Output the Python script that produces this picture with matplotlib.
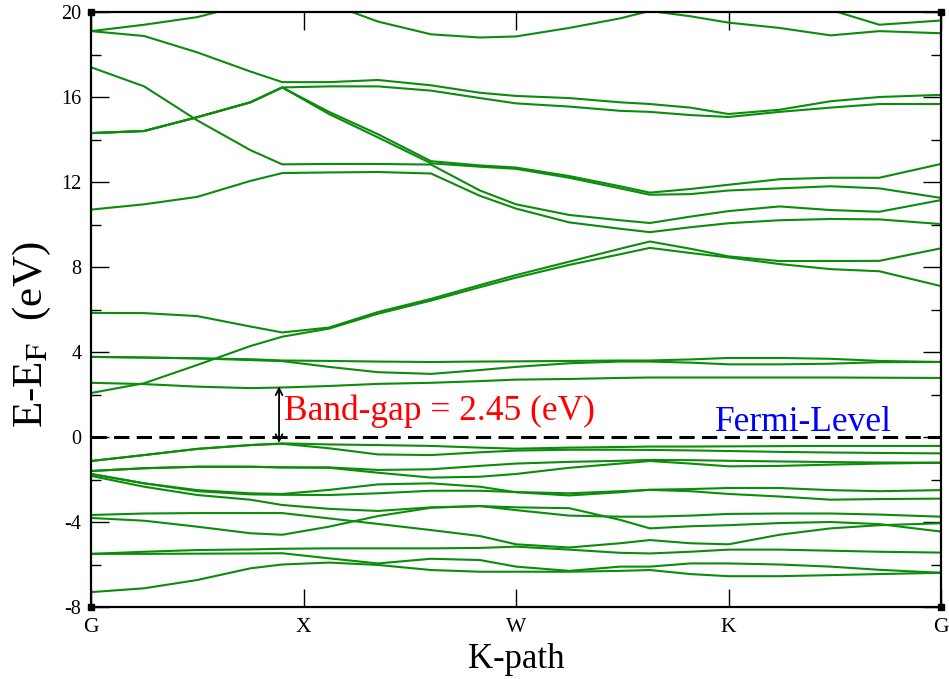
import matplotlib
matplotlib.use("Agg")
import matplotlib.pyplot as plt

# k-path sample positions (G=0, X=1, W=2, K=3, G=4)
kpath = [0, 0.25, 0.5, 0.75, 0.9, 1.12, 1.35, 1.6, 1.83, 2.0, 2.25, 2.49, 2.63, 2.82, 3.0, 3.24, 3.48, 3.71, 4.0]
kticks = [0, 1, 2, 3, 4]
klabels = ["G", "X", "W", "K", "G"]

# conduction bands (eV)
cb_t = [19.1, 19.4, 19.76, 20.4, 20.8, 20.4, 19.55, 18.95, 18.8, 18.85, 19.25, 19.7, 20.05, 19.8, 19.5, 19.25, 18.9, 19.1, 19.0]
cb_u = [20.6, 20.6, 20.6, 20.6, 20.6, 20.6, 20.6, 20.6, 20.6, 20.6, 20.6, 20.6, 20.6, 20.6, 20.6, 20.6, 20.1, 19.4, 19.6]
cb_v = [19.1, 18.87, 18.1, 17.2, 16.7, 16.7, 16.8, 16.55, 16.2, 16.05, 15.95, 15.75, 15.67, 15.5, 15.2, 15.4, 15.8, 16.0, 16.1]
cb_w = [14.3, 14.4, 15.05, 15.75, 16.45, 16.5, 16.5, 16.3, 15.95, 15.7, 15.55, 15.35, 15.3, 15.15, 15.06, 15.3, 15.5, 15.67, 15.67]
cb_p = [14.3, 14.4, 15.05, 15.75, 16.45, 15.3, 14.25, 12.98, 12.78, 12.68, 12.28, 11.8, 11.5, 11.67, 11.87, 12.13, 12.2, 12.2, 12.85]
cb_q = [14.3, 14.4, 15.05, 15.75, 16.45, 15.2, 14.1, 12.88, 12.72, 12.62, 12.2, 11.7, 11.4, 11.43, 11.6, 11.7, 11.8, 11.7, 11.25]
cb_s = [17.4, 16.5, 14.9, 13.5, 12.83, 12.85, 12.85, 12.82, 11.6, 10.95, 10.45, 10.2, 10.07, 10.37, 10.63, 10.85, 10.68, 10.6, 11.15]
cb_r = [10.7, 10.95, 11.3, 12.05, 12.42, 12.45, 12.47, 12.4, 11.35, 10.75, 10.1, 9.8, 9.64, 9.87, 10.06, 10.2, 10.26, 10.24, 10.02]
cb_5 = [5.84, 5.83, 5.69, 5.2, 4.92, 5.15, 5.88, 6.5, 7.15, 7.62, 8.25, 8.86, 9.2, 8.86, 8.5, 8.28, 8.28, 8.29, 8.88]
cb_1 = [2.07, 2.53, 3.39, 4.28, 4.72, 5.1, 5.8, 6.42, 7.05, 7.5, 8.1, 8.6, 8.9, 8.66, 8.45, 8.14, 7.9, 7.8, 7.1]
cb_3 = [3.77, 3.74, 3.7, 3.66, 3.6, 3.58, 3.55, 3.53, 3.55, 3.56, 3.58, 3.6, 3.6, 3.65, 3.72, 3.72, 3.68, 3.58, 3.53]
cb_4 = [3.77, 3.74, 3.7, 3.62, 3.57, 3.3, 3.05, 2.97, 3.15, 3.3, 3.47, 3.55, 3.55, 3.5, 3.42, 3.42, 3.45, 3.52, 3.53]
cb_2 = [2.55, 2.49, 2.37, 2.3, 2.33, 2.4, 2.5, 2.55, 2.63, 2.7, 2.73, 2.78, 2.8, 2.8, 2.8, 2.8, 2.8, 2.79, 2.78]

# valence bands (eV)
vb_1 = [-1.13, -0.85, -0.56, -0.38, -0.3, -0.35, -0.38, -0.42, -0.5, -0.55, -0.5, -0.47, -0.45, -0.45, -0.44, -0.43, -0.42, -0.42, -0.42]
vb_2 = [-1.13, -0.85, -0.56, -0.38, -0.32, -0.53, -0.82, -0.85, -0.72, -0.64, -0.6, -0.6, -0.61, -0.63, -0.66, -0.7, -0.73, -0.75, -0.77]
vb_3 = [-1.6, -1.47, -1.4, -1.4, -1.43, -1.43, -1.55, -1.52, -1.36, -1.25, -1.17, -1.12, -1.08, -1.09, -1.12, -1.15, -1.18, -1.2, -1.21]
vb_4 = [-1.6, -1.47, -1.4, -1.4, -1.43, -1.45, -1.68, -1.91, -1.87, -1.74, -1.45, -1.25, -1.13, -1.25, -1.38, -1.36, -1.3, -1.25, -1.21]
vb_5 = [-1.74, -2.18, -2.5, -2.65, -2.68, -2.49, -2.23, -2.18, -2.34, -2.6, -2.75, -2.6, -2.48, -2.45, -2.4, -2.4, -2.5, -2.55, -2.5]
vb_6 = [-1.74, -2.18, -2.55, -2.7, -2.72, -2.73, -2.65, -2.53, -2.53, -2.59, -2.65, -2.55, -2.49, -2.55, -2.68, -2.8, -2.95, -2.92, -2.9]
vb_7 = [-1.83, -2.34, -2.73, -2.95, -3.2, -3.38, -3.48, -3.31, -3.25, -3.44, -3.7, -3.75, -3.75, -3.7, -3.62, -3.6, -3.6, -3.65, -3.75]
vb_8 = [-3.81, -3.94, -4.22, -4.53, -4.6, -4.22, -3.72, -3.33, -3.25, -3.31, -3.35, -3.9, -4.3, -4.2, -4.15, -4.05, -4.0, -4.1, -4.45]
vb_9 = [-3.67, -3.6, -3.58, -3.58, -3.58, -3.83, -4.09, -4.38, -4.66, -5.05, -5.2, -5.0, -4.85, -5.0, -5.05, -4.6, -4.3, -4.15, -4.06]
vb_10 = [-5.5, -5.4, -5.32, -5.29, -5.26, -5.24, -5.24, -5.24, -5.22, -5.16, -5.3, -5.45, -5.48, -5.4, -5.3, -5.3, -5.35, -5.4, -5.44]
vb_11 = [-5.5, -5.5, -5.49, -5.48, -5.47, -5.71, -5.95, -5.73, -5.79, -6.1, -6.3, -6.1, -6.1, -5.95, -5.95, -6.0, -6.1, -6.25, -6.39]
vb_12 = [-7.3, -7.12, -6.73, -6.18, -6.0, -5.91, -6.02, -6.26, -6.34, -6.34, -6.34, -6.3, -6.26, -6.45, -6.55, -6.55, -6.5, -6.45, -6.39]

bands = [cb_t, cb_u, cb_v, cb_w, cb_p, cb_q, cb_s, cb_r, cb_5, cb_1, cb_3, cb_4, cb_2,
         vb_1, vb_2, vb_3, vb_4, vb_5, vb_6, vb_7, vb_8, vb_9, vb_10, vb_11, vb_12]

k_gap = 0.885
vbm = -0.28
cbm = 2.38

plt.rcParams["font.family"] = ["Liberation Serif", "DejaVu Serif"]
plt.rcParams["mathtext.fontset"] = "stix"
plt.rcParams["axes.unicode_minus"] = False

fig = plt.figure(figsize=(9.49, 6.79), dpi=100)
ax = fig.add_axes([91 / 949, 1 - 607 / 679, 850 / 949, 595 / 679])

for b in bands:
    ax.plot(kpath, b, color="#0b8c0b", lw=1.5, solid_joinstyle="round")

ax.axhline(0, color="k", lw=2.2, ls=(0, (5.0, 2.4)))
ax.annotate("", xy=(k_gap, cbm), xytext=(k_gap, vbm),
            arrowprops=dict(arrowstyle="<->", color="k", lw=1.3, mutation_scale=12, shrinkA=0, shrinkB=0))
ax.text(0.91, 1.2, "Band-gap = 2.45 (eV)", color="red", fontsize=25.5, va="center", ha="left")
ax.text(2.935, 0.7, "Fermi-Level", color="blue", fontsize=25.5, va="center", ha="left")

ax.set_xlim(0, 4)
ax.set_ylim(-8, 20)
ax.set_xticks(kticks)
ax.set_xticklabels(klabels)
ax.set_yticks(range(-8, 21, 4))
ax.set_yticks(range(-6, 20, 4), minor=True)
ax.tick_params(which="major", direction="in", length=13, width=1, top=True, right=True, labelsize=14.5, pad=7)
ax.tick_params(which="minor", direction="in", length=7, width=1, top=True, right=True)
ax.tick_params(axis="x", labelsize=15.5, pad=8)
for sp in ax.spines.values():
    sp.set_linewidth(1.6)

# corner squares like the original grace frame
ax.plot([0, 4, 0, 4], [-8, -8, 20, 20], ls="none", marker="s", ms=5, color="k", clip_on=False)

ax.set_xlabel("K-path", fontsize=25, labelpad=4)
ax.set_ylabel("E-E$_\\mathrm{F}$  (eV)", fontsize=31)
ax.yaxis.set_label_coords(-0.045, 0.458)

fig.savefig("out.png", dpi=100)
